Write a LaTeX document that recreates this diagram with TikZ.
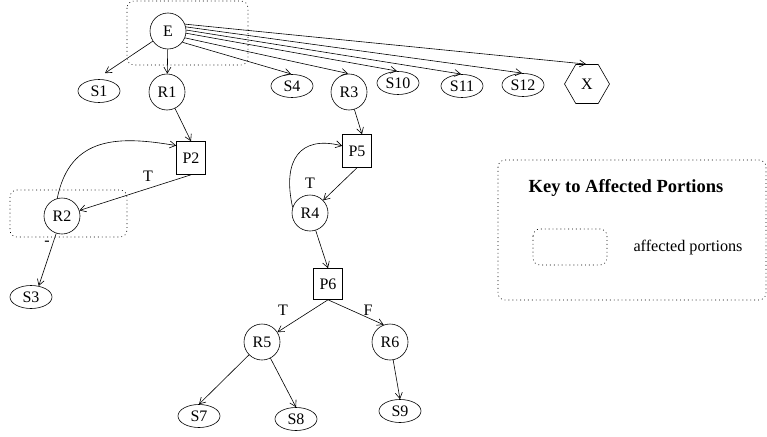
\documentclass[tikz,border=0pt]{standalone}
\usepackage{fontspec}
\setmainfont{Liberation Serif}
\usetikzlibrary{shapes.geometric,arrows.meta,calc}

\begin{document}
\begin{tikzpicture}[x=1pt,y=-1pt,line width=0.6pt,
  every node/.style={font=\fontsize{16}{19}\selectfont, inner sep=0pt},
  rnode/.style={circle,draw,minimum size=36pt},
  snode/.style={ellipse,draw,minimum width=42pt,minimum height=23pt},
  pnode/.style={rectangle,draw,minimum width=29pt,minimum height=33pt},
  xnode/.style={regular polygon,regular polygon sides=6,draw,minimum size=45pt},
  arr/.style={-{Straight Barb[length=6pt,width=7pt]}},
  region/.style={dash pattern=on 0.9pt off 3pt, rounded corners=7pt},
  lab/.style={font=\fontsize{16}{19}\selectfont}]

\useasboundingbox (0,0) rectangle (767,436);

% affected portions
\draw[region] (127,1) rectangle (248,65);
\draw[region] (10,190) rectangle (127,237);

% top level
\node[rnode] (E) at (168,31) {E};
\node[snode] (S1) at (99,91) {S1};
\node[rnode] (R1) at (167,92) {R1};
\node[snode] (S4) at (292,86) {S4};
\node[rnode] (R3) at (349,92) {R3};
\node[snode] (S10) at (398,83) {S10};
\node[snode] (S11) at (462,86) {S11};
\node[snode] (S12) at (523,85) {S12};
\node[xnode] (X) at (587,84) {X};

% left branch
\node[pnode] (P2) at (191,158) {P2};
\node[rnode] (R2) at (62,216) {R2};
\node[snode] (S3) at (31,297) {S3};

% right branch
\node[pnode] (P5) at (357,151) {P5};
\node[rnode] (R4) at (310,213) {R4};
\node[pnode,minimum height=31pt] (P6) at (328,284) {P6};
\node[rnode] (R5) at (262,342) {R5};
\node[rnode] (R6) at (390,342) {R6};
\node[snode] (S7) at (199,416) {S7};
\node[snode] (S8) at (296,419) {S8};
\node[snode] (S9) at (400,411) {S9};

% edges from E
\draw[arr] (E) -- ($(S1.north)+(6,-6)$);
\draw[arr] (E) -- (R1);
\foreach \a/\t in {-38/S4,-22/R3,-7/S10,3/S11,13/S12,22/X}
  \draw[arr,shorten >=1pt] (E.\a) -- (\t.north);

% left branch edges
\draw[arr] (R1) -- (P2.north);
\draw[arr] (P2.south) -- (R2);
\draw[arr] (R2.105) .. controls (70,135) and (120,136) .. (P2.140);
\draw[arr] (R2) -- (S3.55);
\node[lab] (tP2) at (148,176) {T};
\node[lab] (mR2) at (47,243) {-};

% right branch edges
\draw[arr] (R3) -- ($(P5.north)+(5,0)$);
\draw[arr] (P5.south) -- (R4);
\draw[arr] (R4.162) .. controls (282,160) and (300,135) .. (P5.161);
\draw[arr] (R4) -- (P6.north);
\draw[arr] (P6.south) -- (R5);
\draw[arr] (P6.south) -- (R6.110);
\draw[arr] (R5) -- (S7.north);
\draw[arr] (R5) -- (S8.north);
\draw[arr] (R6) -- (S9.north);
\node[lab] (tP5) at (310,183) {T};
\node[lab] (tP6) at (283,310) {T};
\node[lab] (fP6) at (368,310) {F};

% key
\draw[region] (498,160) rectangle (766,300);
\node[font=\fontsize{18.5}{22}\selectfont\bfseries] (ktitle) at (626,188) {Key to Affected Portions};
\draw[region] (533,229) rectangle (607,265);
\node[font=\fontsize{16.2}{19}\selectfont] (ktext) at (688,248) {affected portions};
\end{tikzpicture}
\end{document}
